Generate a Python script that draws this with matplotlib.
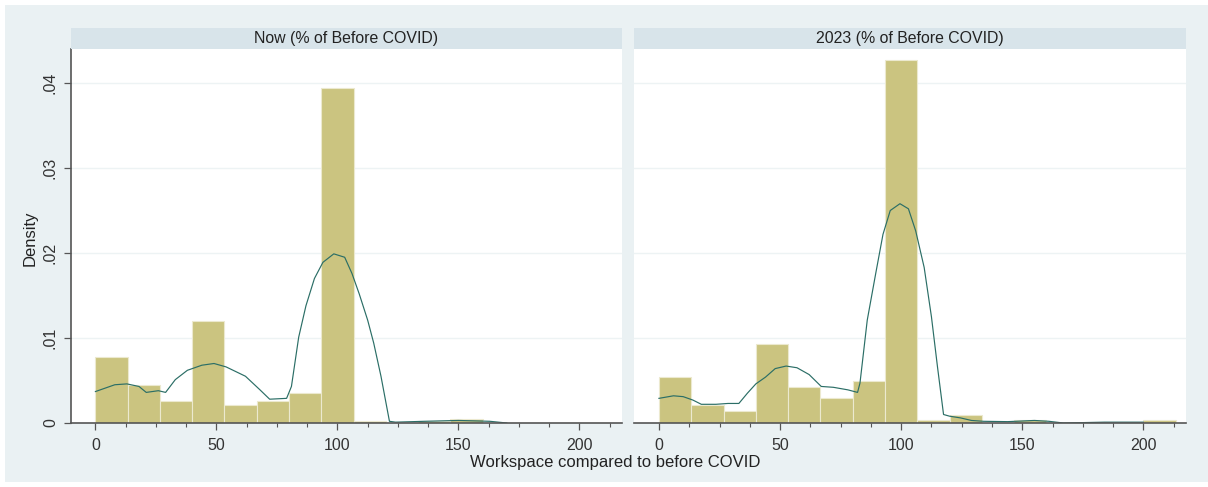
import numpy as np
import matplotlib.pyplot as plt
from matplotlib.patches import Rectangle

plt.rcParams['font.family'] = ['Liberation Sans', 'DejaVu Sans']

# histogram bins (workspace %, density)
bin_edges = [0, 13.33, 26.67, 40, 53.33, 66.67, 80, 93.33, 106.67, 120,
             133.33, 146.67, 160, 173.33, 186.67, 200, 213.33]
now_density = [0.0078, 0.0045, 0.0026, 0.0120, 0.0021, 0.0026, 0.0035, 0.0394,
               0.0002, 0.0, 0.0002, 0.0005, 0.0, 0.0, 0.0, 0.0]
y2023_density = [0.0054, 0.0021, 0.0014, 0.0093, 0.0042, 0.0030, 0.0050, 0.0427,
                 0.0004, 0.0009, 0.0, 0.0004, 0.0, 0.0, 0.0, 0.0003]

# kernel density curves
now_kde_x = [0, 4, 8, 13, 18, 21, 26, 29, 33, 38, 44, 49, 54, 62, 68, 72, 79,
             81, 84, 87, 90.5, 94, 98.5, 103, 106, 109, 112.5, 115, 118, 121.5,
             124, 136, 150, 163, 170]
now_kde_y = [0.0037, 0.0041, 0.0045, 0.0046, 0.0043, 0.0036, 0.0038, 0.0036,
             0.0051, 0.0062, 0.0068, 0.0070, 0.0066, 0.0055, 0.0039, 0.0028,
             0.0029, 0.0043, 0.0101, 0.0138, 0.0170, 0.0189, 0.0199, 0.0195,
             0.0176, 0.0152, 0.0121, 0.0094, 0.0055, 0.0002, 0.0001, 0.0002,
             0.0003, 0.0002, 0.0]
y2023_kde_x = [0, 6, 10, 14, 17.5, 23.5, 28.5, 33, 36.5, 40, 44, 48, 52.5, 57,
               62, 67, 72, 78, 82, 83, 86, 89.5, 92.5, 95.5, 99.5, 103, 106,
               109.5, 112.5, 115, 117.5, 120, 124.5, 129, 134, 144, 155, 161,
               167, 184, 200]
y2023_kde_y = [0.0029, 0.0032, 0.0031, 0.0027, 0.0022, 0.0022, 0.0023, 0.0023,
               0.0035, 0.0046, 0.0054, 0.0064, 0.0067, 0.0065, 0.0057, 0.0043,
               0.0042, 0.0039, 0.0036, 0.0047, 0.0121, 0.0176, 0.0222, 0.0250,
               0.0258, 0.0252, 0.0226, 0.0183, 0.0125, 0.0066, 0.0010, 0.0008,
               0.0006, 0.0003, 0.0002, 0.00016, 0.0003, 0.0002, 0.0, 0.0001, 0.0001]

panel_titles = ['Now (% of Before COVID)', '2023 (% of Before COVID)']
x_ticks = [0, 50, 100, 150, 200]
y_ticks = [0, 0.01, 0.02, 0.03, 0.04]
y_labels = ['0', '.01', '.02', '.03', '.04']

W, H = 1208, 487
fig = plt.figure(figsize=(W / 100, H / 100), dpi=100)
fig.patch.set_facecolor('white')
# light outer background with a thin white frame
fig.patches.append(Rectangle((5 / W, 5 / H), 1 - 5 / W, 1 - 10 / H,
                             transform=fig.transFigure, fc='#EAF1F3', ec='none', zorder=-10))

bar_col = '#CBC480'
kde_col = '#2B6E66'
ax_bottom, ax_top = 423, 49
panels = [(70.5, 622), (634, 1186)]
series = [(now_density, now_kde_x, now_kde_y), (y2023_density, y2023_kde_x, y2023_kde_y)]
edges = np.array(bin_edges)

for i, ((x0, x1), (dens, kx, ky)) in enumerate(zip(panels, series)):
    ax = fig.add_axes([x0 / W, (H - ax_bottom) / H, (x1 - x0) / W, (ax_bottom - ax_top) / H])
    ax.set_facecolor('white')
    ax.bar(edges[:-1], dens, width=np.diff(edges), align='edge', color=bar_col,
           edgecolor='#ECE9CF', linewidth=0.8, zorder=2)
    ax.plot(kx, ky, color=kde_col, lw=0.85, zorder=3)
    ax.set_xlim(-10.3, 217.6)
    ax.set_ylim(0, 0.0440)
    for yv in y_ticks[1:]:
        ax.axhline(yv, color='#EDF3F4', lw=1.0, zorder=1)
    for s in ['top', 'right']:
        ax.spines[s].set_visible(False)
    ax.spines['bottom'].set_color('#555555')
    ax.spines['bottom'].set_linewidth(1.2)
    ax.spines['bottom'].set_zorder(4)
    ax.set_xticks(x_ticks)
    ax.set_xticks(np.arange(0, 214, 12.5), minor=True)
    ax.tick_params(axis='x', which='major', length=5, width=0.9, color='#555555',
                   labelsize=11.5, labelcolor='#333333', pad=6)
    ax.tick_params(axis='x', which='minor', length=3, width=0.8, color='#555555')
    if i == 0:
        ax.spines['left'].set_color('#555555')
        ax.spines['left'].set_linewidth(1.2)
        ax.set_yticks(y_ticks)
        ax.set_yticklabels(y_labels, rotation=90, va='center')
        ax.tick_params(axis='y', length=5, width=0.9, color='#555555',
                       labelsize=11.5, labelcolor='#333333', pad=4)
    else:
        ax.spines['left'].set_visible(False)
        ax.set_yticks([])
    # strip title
    fig.patches.append(Rectangle((x0 / W, (H - 49) / H), (x1 - x0) / W, 21 / H,
                                 transform=fig.transFigure, fc='#D8E4EA', ec='none'))
    fig.text((x0 + x1) / 2 / W, (H - 38.5) / H, panel_titles[i], ha='center', va='center',
             fontsize=11.4, color='#222222')

fig.text(615 / W, (H - 462) / H, 'Workspace compared to before COVID', ha='center',
         va='center', fontsize=12, color='#222222')
fig.text(30 / W, (H - 238) / H, 'Density', ha='center', va='center', rotation=90,
         fontsize=12, color='#222222')

fig.savefig('out.png', dpi=100, facecolor=fig.get_facecolor())
